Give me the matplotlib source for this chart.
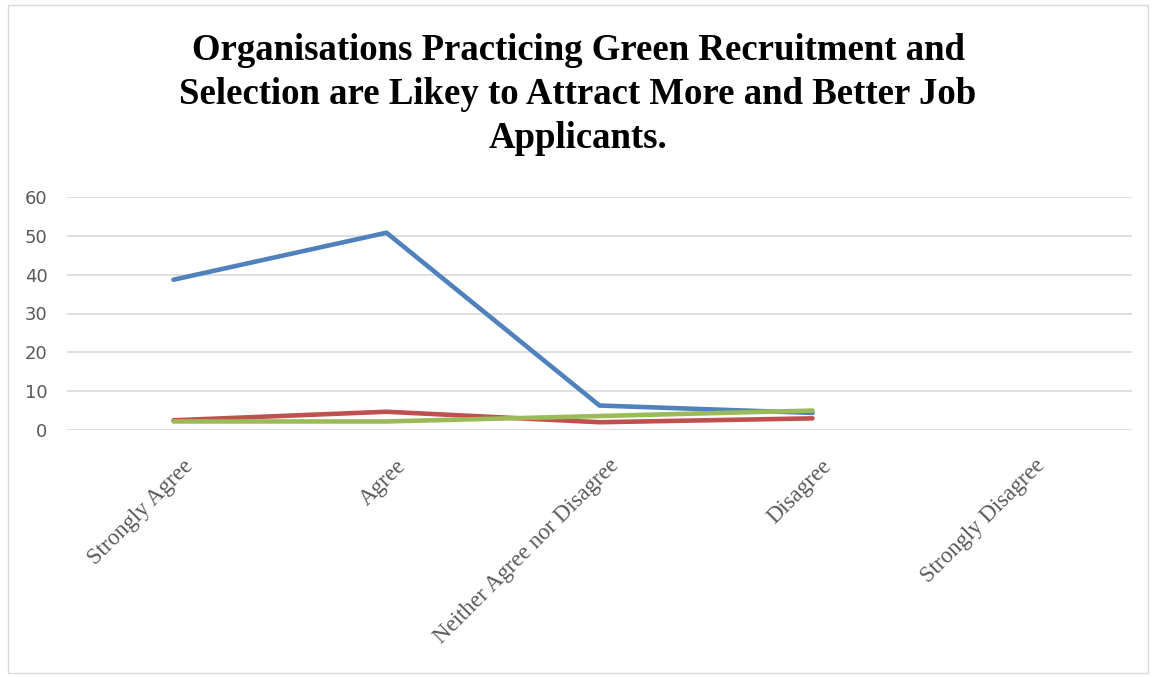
import numpy as np
import matplotlib.pyplot as plt
import matplotlib.transforms as mtransforms
from matplotlib.patches import Rectangle

categories = ['Strongly Agree', 'Agree', 'Neither Agree nor Disagree', 'Disagree', 'Strongly Disagree']
blue_vals = [38.7, 50.8, 6.3, 4.4, np.nan]
red_vals = [2.5, 4.7, 2.0, 3.0, np.nan]
green_vals = [2.2, 2.2, 3.6, 5.0, np.nan]
title = 'Organisations Practicing Green Recruitment and\nSelection are Likey to Attract More and Better Job\nApplicants.'

fig = plt.figure(figsize=(11.56, 6.77), dpi=100)
ax = fig.add_axes([67 / 1156, 1 - 430 / 677, (1132 - 67) / 1156, (430 - 197) / 677])

x = np.arange(len(categories))
ax.plot(x, blue_vals, color='#4F81BD', linewidth=3.3, solid_capstyle='round')
ax.plot(x, red_vals, color='#C0504D', linewidth=3.3, solid_capstyle='round')
ax.plot(x, green_vals, color='#9BBB59', linewidth=3.3, solid_capstyle='round')

ax.set_xlim(-0.5, len(categories) - 0.5)
ax.set_ylim(0, 60)
ax.set_yticks(np.arange(0, 61, 10))
ax.grid(axis='y', color='#D9D9D9', linewidth=1.2)
ax.set_axisbelow(True)
for s in ax.spines.values():
    s.set_visible(False)
ax.tick_params(axis='both', length=0)
ax.tick_params(axis='y', labelsize=13, labelcolor='#595959', pad=14)

ax.set_xticks(x)
ax.set_xticklabels(categories, rotation=45, ha='right', va='center',
                   rotation_mode='anchor', family='Liberation Serif',
                   fontsize=16.5, color='#595959')
offset = mtransforms.ScaledTranslation(16 / 100, -28 / 100, fig.dpi_scale_trans)
for lbl in ax.get_xticklabels():
    lbl.set_transform(lbl.get_transform() + offset)

fig.text(0.5, 1 - 33 / 677, title, ha='center', va='top', family='Liberation Serif',
         fontweight='bold', fontsize=26.5, linespacing=1.34)

fig.patches.append(Rectangle((8 / 1156, 4 / 677), 1140 / 1156, 668 / 677,
                             transform=fig.transFigure, fill=False,
                             edgecolor='#D9D9D9', linewidth=1))

fig.savefig('out.png', dpi=100)
